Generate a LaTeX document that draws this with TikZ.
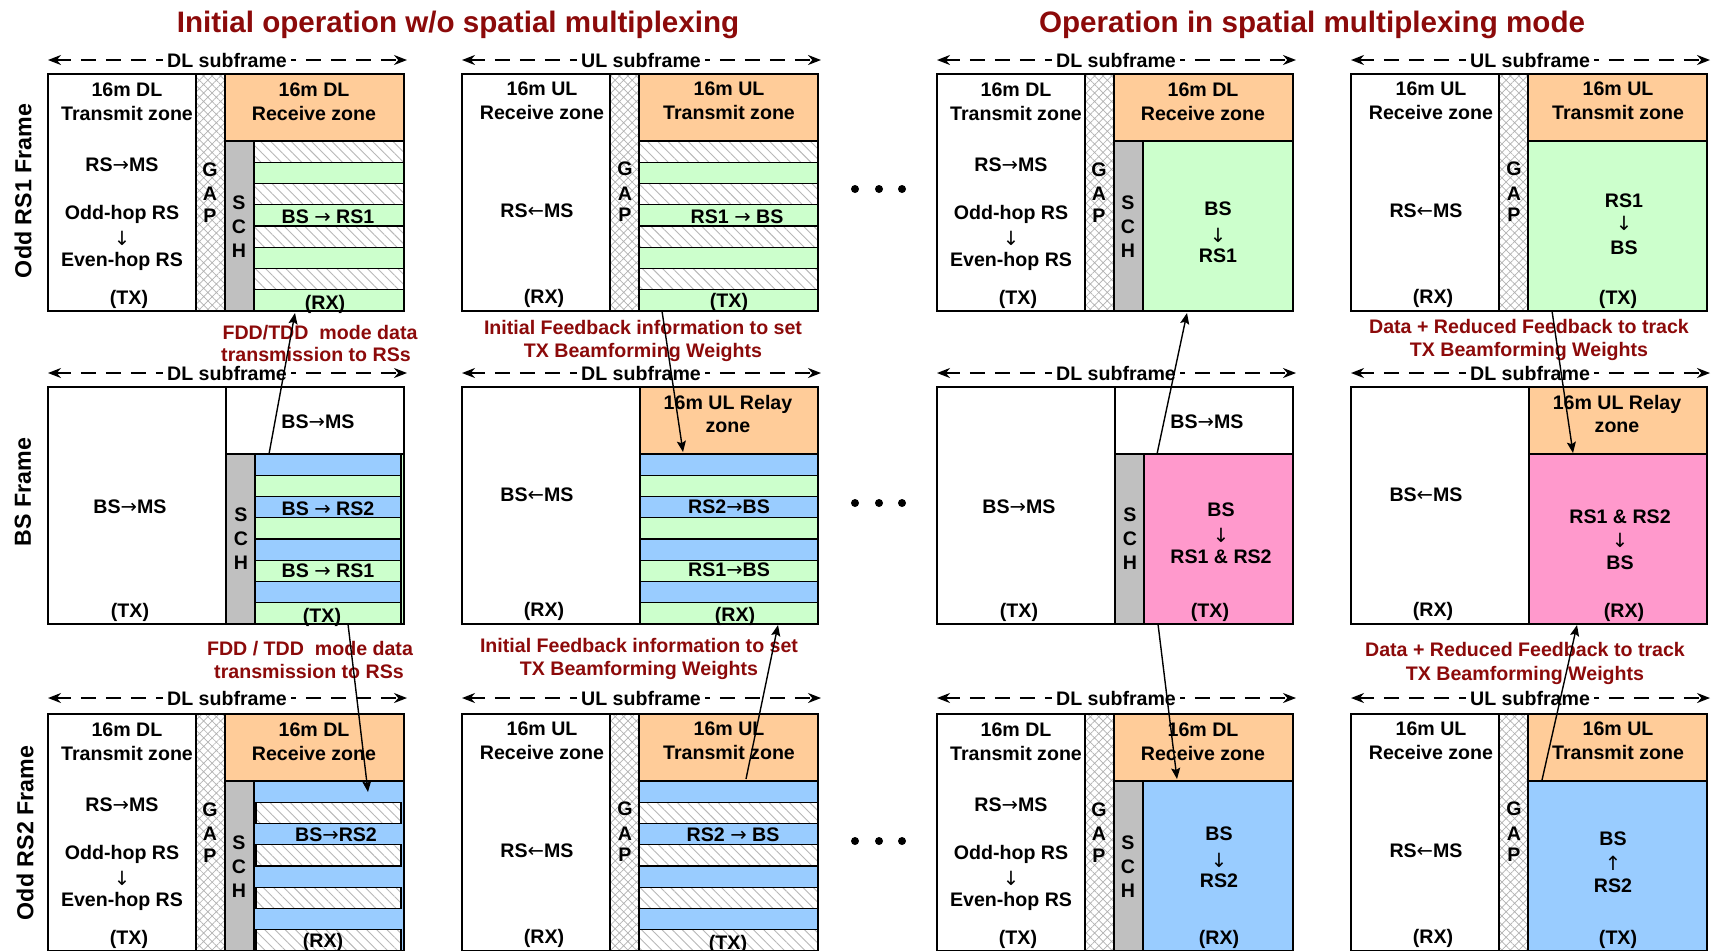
\documentclass[tikz,border=0pt]{standalone}
\usepackage{fontspec}
\setmainfont{Liberation Sans}
\newfontfamily\arfont{DejaVu Sans}
\usetikzlibrary{patterns.meta,arrows.meta}
\definecolor{dred}{RGB}{140,10,10}
\definecolor{orz}{RGB}{255,204,153}
\definecolor{grn}{RGB}{204,255,204}
\definecolor{blu}{RGB}{153,204,255}
\definecolor{pnk}{RGB}{255,153,204}
\definecolor{schg}{RGB}{192,192,192}
\tikzset{
  box/.style={draw=black,line width=1pt},
  gapfill/.style={pattern={Hatch[angle=45,distance=3pt,line width=0.35pt]},pattern color=black!30},
  hatchW/.style={preaction={fill=white},pattern={Lines[angle=-45,distance=3.6pt,line width=0.45pt]},pattern color=black!28,draw=black,line width=0.6pt},
  stripeG/.style={fill=grn,draw=black,line width=0.6pt},
  stripeB/.style={fill=blu,draw=black,line width=0.6pt},
  nostyle/.style={},
  lab/.style={font=\fontsize{9.8}{11.5}\selectfont\bfseries,inner sep=0pt,anchor=base},
  rlab/.style={lab,text=dred},
  ttl/.style={font=\fontsize{14.8}{17}\selectfont\bfseries,text=dred,inner sep=0pt,anchor=base},
  vlab/.style={font=\fontsize{11.6}{13}\selectfont\bfseries,inner sep=0pt,rotate=90,anchor=center},
  sub/.style={line width=1pt,dash pattern=on 7.5pt off 5pt,{Stealth[length=6.5pt,width=5pt]}-{Stealth[length=6.5pt,width=5pt]}},
  conn/.style={line width=0.7pt,-{Stealth[length=5.5pt,width=4.5pt,inset=1pt]}},
}
\newcounter{lblno}
\newcommand\lbl[4][]{\stepcounter{lblno}\node[lab,#1] (L\arabic{lblno}) at (#2,{#3+7}) {#4};}
\newcommand\ar[1]{{\arfont\mdseries #1}}
\newcommand\stripes[4]{%
  \foreach \i in {0,...,7}{%
    \pgfmathsetmacro\ya{67+\i*21.25}%
    \pgfmathsetmacro\yb{67+(\i+1)*21.25}%
    \ifodd\i \path[#4] (#1,\ya) rectangle (#2,\yb);\else \path[#3] (#1,\ya) rectangle (#2,\yb);\fi
  }}
\newcommand\subarrow[4]{%
  \coordinate (#4l) at (#1,#2);
  \coordinate (#4r) at ({#1+359},#2);
  \draw[sub] (#4l) -- (#4r);
  \node[lab,anchor=center,fill=white,inner xsep=2pt,inner ysep=1pt] (#4) at ({#1+179},#2) {#3};}
% RS DL frame
\newcommand\rsdlbg{%
  \path[gapfill] (148,0) rectangle (177,237);
  \path[fill=orz] (177,0) rectangle (356,67);
  \path[fill=schg] (177,67) rectangle (206,237);}
\newcommand\rsdlfg{%
  \draw[box] (0,0) rectangle (356,237);
  \draw[box] (148,0)--(148,237) (177,0)--(177,237) (177,67)--(356,67) (206,67)--(206,237);
  \lbl{79}{15}{16m DL}\lbl{79}{39}{Transmit zone}
  \lbl{74}{90}{RS\ar{→}MS}\lbl{74}{138}{Odd-hop RS}\lbl{74}{164}{\ar{↓}}\lbl{74}{185}{Even-hop RS}
  \lbl{81}{223}{(TX)}
  \lbl{266}{15}{16m DL}\lbl{266}{39}{Receive zone}
  \lbl{162}{95}{G}\lbl{162}{119}{A}\lbl{162}{141}{P}
  \lbl{191}{128}{S}\lbl{191}{152}{C}\lbl{191}{176}{H}}
% RS UL frame
\newcommand\rsulbg{%
  \path[gapfill] (148,0) rectangle (177,237);
  \path[fill=orz] (177,0) rectangle (356,67);}
\newcommand\rsulfg{%
  \draw[box] (0,0) rectangle (356,237);
  \draw[box] (148,0)--(148,237) (177,0)--(177,237) (177,67)--(356,67);
  \lbl{80}{14}{16m UL}\lbl{80}{38}{Receive zone}
  \lbl{75}{136}{RS\ar{←}MS}\lbl{82}{222}{(RX)}
  \lbl{163}{94}{G}\lbl{163}{119}{A}\lbl{163}{140}{P}
  \lbl{267}{14}{16m UL}\lbl{267}{38}{Transmit zone}}
% BS DL frame
\newcommand\bsdlbg{%
  \path[fill=schg] (178,67) rectangle (207,237);}
\newcommand\bsdlfg{%
  \draw[box] (0,0) rectangle (356,237);
  \draw[box] (178,0)--(178,237) (178,67)--(356,67) (207,67)--(207,237);
  \lbl{82}{119}{BS\ar{→}MS}\lbl{82}{223}{(TX)}
  \lbl{270}{34}{BS\ar{→}MS}
  \lbl{193}{127}{S}\lbl{193}{151}{C}\lbl{193}{175}{H}}
% BS UL frame
\newcommand\bsulbg{%
  \path[fill=orz] (178,0) rectangle (356,67);}
\newcommand\bsulfg{%
  \draw[box] (0,0) rectangle (356,237);
  \draw[box] (178,0)--(178,237) (178,67)--(356,67);
  \lbl{75}{107}{BS\ar{←}MS}\lbl{82}{222}{(RX)}
  \lbl{266}{15}{16m UL Relay}\lbl{266}{38}{zone}}

\begin{document}
\begin{tikzpicture}[x=0.5pt,y=-0.5pt]
\useasboundingbox (0,0) rectangle (1716,950);
\fill[white] (0,0) rectangle (1716,950);

% titles
\node[ttl] (title1) at (458,32) {Initial operation w/o spatial multiplexing};
\node[ttl] (title2) at (1312,32) {Operation in spatial multiplexing mode};

% row labels
\node[vlab] (v1) at (23,191) {Odd RS1 Frame};
\node[vlab] (v2) at (23,492) {BS Frame};
\node[vlab] (v3) at (25,833) {Odd RS2 Frame};

% subframe arrows
\subarrow{48}{60}{DL subframe}{s11}
\subarrow{462}{60}{UL subframe}{s12}
\subarrow{937}{60}{DL subframe}{s13}
\subarrow{1351}{60}{UL subframe}{s14}
\subarrow{48}{373}{DL subframe}{s21}
\subarrow{462}{373}{DL subframe}{s22}
\subarrow{937}{373}{DL subframe}{s23}
\subarrow{1351}{373}{DL subframe}{s24}
\subarrow{48}{698}{DL subframe}{s31}
\subarrow{462}{698}{UL subframe}{s32}
\subarrow{937}{698}{DL subframe}{s33}
\subarrow{1351}{698}{UL subframe}{s34}

% ---------- Row 1 ----------
\begin{scope}[shift={(48,74)}]
  \rsdlbg
  \stripes{206}{356}{hatchW}{stripeG}
  \rsdlfg
  \lbl{280}{142}{BS \ar{→} RS1}
  \lbl{277}{228}{(RX)}
\end{scope}
\begin{scope}[shift={(462,74)}]
  \rsulbg
  \stripes{177}{356}{hatchW}{stripeG}
  \rsulfg
  \lbl{275}{142}{RS1 \ar{→} BS}
  \lbl{267}{226}{(TX)}
\end{scope}
\begin{scope}[shift={(937,74)}]
  \rsdlbg
  \path[fill=grn] (206,67) rectangle (356,237);
  \rsdlfg
  \lbl{281}{134}{BS}\lbl{281}{161}{\ar{↓}}\lbl{281}{181}{RS1}
\end{scope}
\begin{scope}[shift={(1351,74)}]
  \rsulbg
  \path[fill=grn] (177,67) rectangle (356,237);
  \rsulfg
  \lbl{273}{126}{RS1}\lbl{273}{149}{\ar{↓}}\lbl{273}{173}{BS}
  \lbl{267}{223}{(TX)}
\end{scope}

% ---------- Row 2 ----------
\begin{scope}[shift={(48,387)}]
  \bsdlbg
  \path[fill=grn] (207,67) rectangle (356,237);
  \stripes{207}{353}{stripeB}{stripeG}
  \bsdlfg
  \lbl{280}{121}{BS \ar{→} RS2}
  \lbl{280}{183}{BS \ar{→} RS1}
  \lbl{274}{228}{(TX)}
\end{scope}
\begin{scope}[shift={(462,387)}]
  \bsulbg
  \stripes{178}{356}{stripeB}{stripeG}
  \bsulfg
  \lbl{267}{119}{RS2\ar{→}BS}
  \lbl{267}{182}{RS1\ar{→}BS}
  \lbl{273}{227}{(RX)}
\end{scope}
\begin{scope}[shift={(937,387)}]
  \bsdlbg
  \path[fill=pnk] (207,67) rectangle (356,237);
  \bsdlfg
  \lbl{284}{122}{BS}\lbl{284}{148}{\ar{↓}}\lbl{284}{169}{RS1 \& RS2}
  \lbl{273}{223}{(TX)}
\end{scope}
\begin{scope}[shift={(1351,387)}]
  \bsulbg
  \path[fill=pnk] (178,67) rectangle (356,237);
  \bsulfg
  \lbl{269}{129}{RS1 \& RS2}\lbl{269}{153}{\ar{↓}}\lbl{269}{175}{BS}
  \lbl{273}{223}{(RX)}
\end{scope}

% ---------- Row 3 ----------
\begin{scope}[shift={(48,714)}]
  \rsdlbg
  \path[fill=blu] (206,67) rectangle (356,237);
  \stripes{208}{353}{nostyle}{hatchW}
  \rsdlfg
  \lbl{288}{120}{BS\ar{→}RS2}
  \lbl{275}{226}{(RX)}
\end{scope}
\begin{scope}[shift={(462,714)}]
  \rsulbg
  \path[fill=blu] (177,67) rectangle (356,237);
  \stripes{177}{356}{stripeB}{hatchW}
  \rsulfg
  \lbl{271}{120}{RS2 \ar{→} BS}
  \lbl{266}{228}{(TX)}
\end{scope}
\begin{scope}[shift={(937,714)}]
  \rsdlbg
  \path[fill=blu] (206,67) rectangle (356,237);
  \rsdlfg
  \lbl{282}{119}{BS}\lbl{282}{146}{\ar{↓}}\lbl{282}{166}{RS2}
  \lbl{282}{223}{(RX)}
\end{scope}
\begin{scope}[shift={(1351,714)}]
  \rsulbg
  \path[fill=blu] (177,67) rectangle (356,237);
  \rsulfg
  \lbl{262}{124}{BS}\lbl{262}{149}{\ar{↑}}\lbl{262}{171}{RS2}
  \lbl{267}{223}{(TX)}
\end{scope}

% dots
\foreach \yy in {189,503,841}{
  \foreach \xx in {855,879,902}{\fill (\xx,\yy) circle[radius=2pt];}}

% red annotation labels
\node[rlab] (r1a) at (320,339) {FDD/TDD\ \ mode data};
\node[rlab] (r1b) at (316,361) {transmission to RSs};
\node[rlab] (r2a) at (310,655) {FDD / TDD\ \ mode data};
\node[rlab] (r2b) at (309,678) {transmission to RSs};
\node[rlab] (r3a) at (643,334) {Initial Feedback information to set};
\node[rlab] (r3b) at (643,357) {TX Beamforming Weights};
\node[rlab] (r4a) at (639,652) {Initial Feedback information to set};
\node[rlab] (r4b) at (639,675) {TX Beamforming Weights};
\node[rlab] (r5a) at (1529,333) {Data + Reduced Feedback to track};
\node[rlab] (r5b) at (1529,356) {TX Beamforming Weights};
\node[rlab] (r6a) at (1525,656) {Data + Reduced Feedback to track};
\node[rlab] (r6b) at (1525,680) {TX Beamforming Weights};

% connectors
\coordinate (k1a) at (269,454); \coordinate (k1b) at (295,313);
\coordinate (k2a) at (348,624); \coordinate (k2b) at (368,792);
\coordinate (k3a) at (662,311); \coordinate (k3b) at (683,452);
\coordinate (k4a) at (746,779); \coordinate (k4b) at (778,625);
\coordinate (k5a) at (1157,454); \coordinate (k5b) at (1187,313);
\coordinate (k6a) at (1158,624); \coordinate (k6b) at (1177,779);
\coordinate (k7a) at (1552,311); \coordinate (k7b) at (1573,453);
\coordinate (k8a) at (1542,780); \coordinate (k8b) at (1577,625);
\foreach \k in {1,...,8}{\draw[conn] (k\k a) -- (k\k b);}
\end{tikzpicture}
\end{document}
